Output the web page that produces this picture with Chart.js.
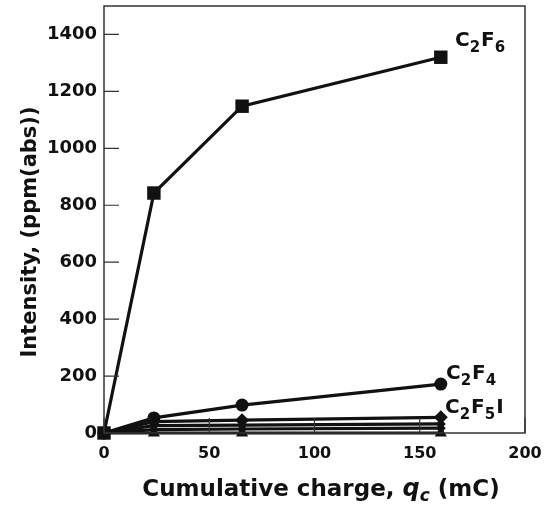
<!DOCTYPE html>
<html><head><meta charset="utf-8">
<script src="https://cdn.jsdelivr.net/npm/chart.js@4.4.1/dist/chart.umd.min.js"></script>
<style>html,body{margin:0;padding:0;background:#fff}#wrap{width:544px;height:511px}</style>
</head><body><div id="wrap"><canvas id="c" width="544" height="511"></canvas></div>
<script>
const charge = [0, 23.7, 65.6, 160];
const c2f6 = [0, 843, 1148, 1320];
const c2f4 = [0, 53, 98, 172];
const c2f5i = [0, 40, 45, 55];
const minorA = [0, 26, 28, 32];
const minorB = [0, 12, 14, 17];
const minorC = [0, 0, 0, 0];
const yTicks = [0, 200, 400, 600, 800, 1000, 1200, 1400];
const xTicks = [0, 50, 100, 150, 200];
const FONT = '"DejaVu Sans", "Liberation Sans", Arial, sans-serif';
const seriesLabels = [
  {parts:[['C',0],['2',1],['F',0],['6',1]], x:455, y:46},
  {parts:[['C',0],['2',1],['F',0],['4',1]], x:446, y:379},
  {parts:[['C',0],['2',1],['F',0],['5',1],['I',0]], x:445, y:413}
];
const INK = '#111111';
function ds(data, style, r, label){
  return {label, data: charge.map((x,i)=>({x, y:data[i]})), borderColor:INK, backgroundColor:INK,
    borderWidth:3.2, pointStyle:style, pointRadius:r, pointHoverRadius:r, pointBorderWidth:0, tension:0, clip:false};
}
const frame = {
  id:'frame',
  afterDraw(ch){
    const ctx = ch.ctx, a = ch.chartArea, xs = ch.scales.x, ys = ch.scales.y;
    ctx.save();
    ctx.strokeStyle = '#333'; ctx.lineWidth = 1.5;
    ctx.strokeRect(a.left, a.top, a.right-a.left, a.bottom-a.top);
    ctx.lineWidth = 1.2;
    ctx.beginPath();
    yTicks.forEach(v=>{const y=ys.getPixelForValue(v); ctx.moveTo(a.left,y); ctx.lineTo(a.left+15,y);});
    xTicks.forEach(v=>{const x=xs.getPixelForValue(v); ctx.moveTo(x,a.bottom); ctx.lineTo(x,a.bottom-15);});
    ctx.stroke();
    ctx.fillStyle = INK; ctx.textBaseline = 'alphabetic'; ctx.textAlign='left';
    seriesLabels.forEach(l=>{
      let x=l.x;
      l.parts.forEach(([t,sub])=>{
        ctx.font = sub ? 'bold 15px '+FONT : 'bold 20px '+FONT;
        ctx.fillText(t, x, l.y + (sub?6:0));
        x += ctx.measureText(t).width + (sub?1:0);
      });
    });
    // y title
    ctx.save();
    ctx.translate(31, 232);
    ctx.rotate(-Math.PI/2);
    ctx.textAlign='center'; ctx.textBaseline='middle';
    ctx.font = 'bold 21px '+FONT;
    ctx.fillText('Intensity, (ppm(abs))', 0, 0);
    ctx.restore();
    // x title
    const parts = [['Cumulative charge, ','bold 23px '+FONT,0],
                   ['q','italic bold 24px '+FONT,0],
                   ['c','italic bold 17px '+FONT,5],
                   [' (mC)','bold 23px '+FONT,0]];
    let w=0; parts.forEach(p=>{ctx.font=p[1]; w+=ctx.measureText(p[0]).width;});
    let x = 321 - w/2;
    parts.forEach(p=>{ctx.font=p[1]; ctx.fillText(p[0], x, 496+p[2]); x+=ctx.measureText(p[0]).width;});
    ctx.restore();
  }
};
function fixPad(s){ s.paddingTop=0; s.paddingRight=0; s.paddingLeft=0; s.paddingBottom=0; }
new Chart(document.getElementById('c'), {
  type:'line',
  data:{datasets:[
    ds(minorC,'triangle',7,'minorC'),
    ds(minorB,'rectRot',5,'minorB'),
    ds(minorA,'rectRot',5,'minorA'),
    ds(c2f5i,'rectRot',7,'C2F5I'),
    ds(c2f4,'circle',6.5,'C2F4'),
    ds(c2f6,'rect',9.5,'C2F6')
  ]},
  options:{
    responsive:false, animation:false,
    layout:{autoPadding:false, padding:{left:0, top:6, right:19, bottom:0}},
    plugins:{legend:{display:false}, tooltip:{enabled:false}},
    scales:{
      x:{type:'linear', min:0, max:200, afterFit:s=>{s.height=78; fixPad(s);},
        afterBuildTicks:s=>{s.ticks = xTicks.map(v=>({value:v}));},
        grid:{display:true, drawOnChartArea:false, drawTicks:false},
        border:{display:false},
        ticks:{padding:11, color:INK, callback:v=>String(v), font:{family:FONT, size:16, weight:'bold'}}},
      y:{type:'linear', min:0, max:1500, afterFit:s=>{s.width=104; fixPad(s);},
        afterBuildTicks:s=>{s.ticks = yTicks.map(v=>({value:v}));},
        grid:{display:true, drawOnChartArea:false, drawTicks:false},
        border:{display:false},
        ticks:{padding:7, color:INK, callback:v=>String(v), font:{family:FONT, size:18, weight:'bold'}}}
    }
  },
  plugins:[frame]
});
</script></body></html>
